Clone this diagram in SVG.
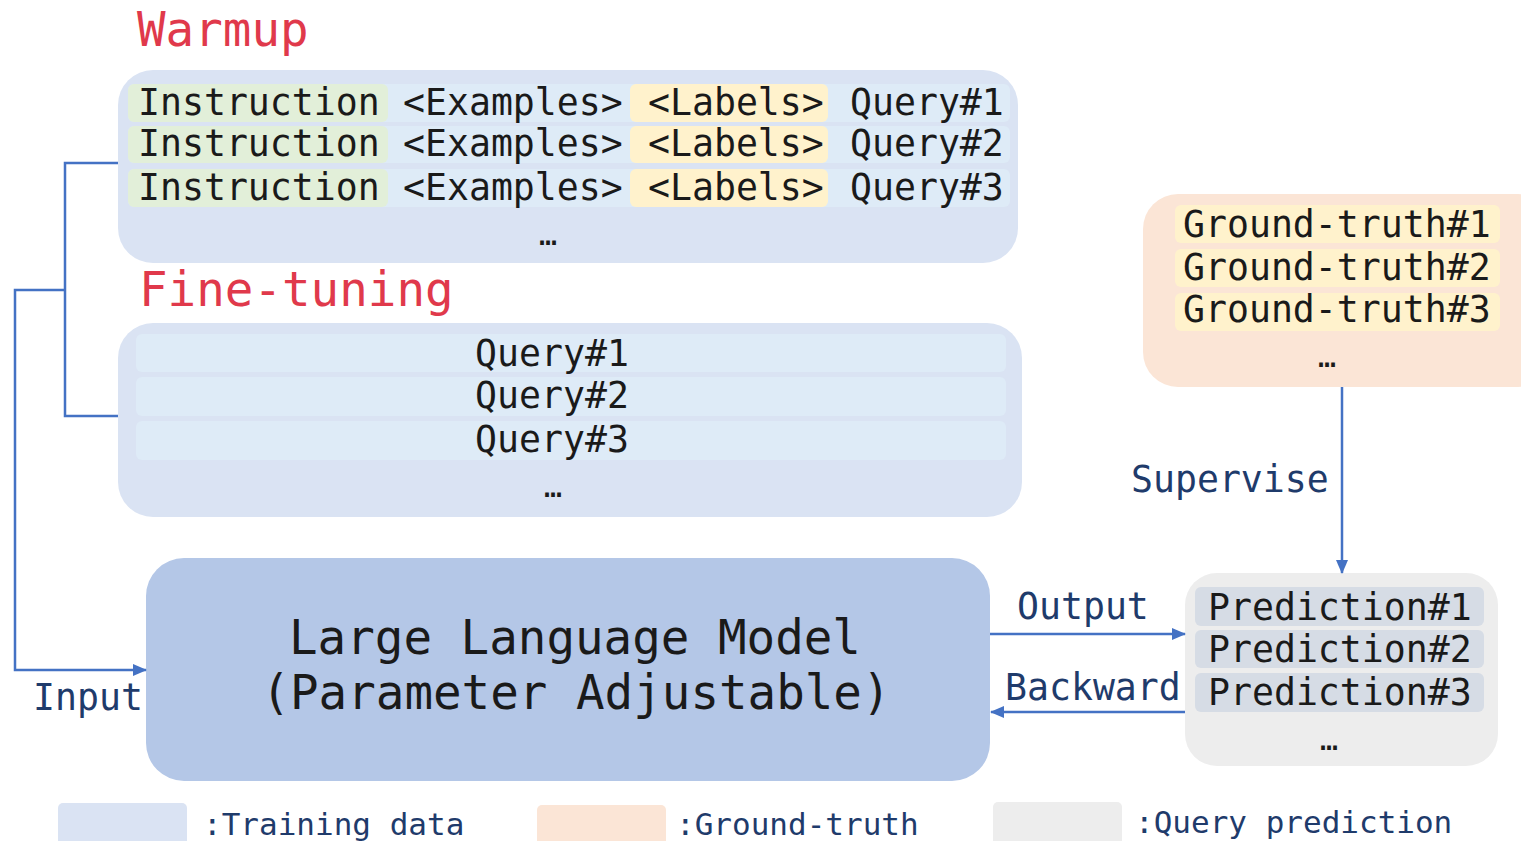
<svg xmlns="http://www.w3.org/2000/svg" width="1521" height="841" viewBox="0 0 1521 841">
<defs>
<marker id="ah" viewBox="0 0 14 12" refX="13" refY="6" markerWidth="14" markerHeight="12" orient="auto" markerUnits="userSpaceOnUse">
<path d="M0,0 L14,6 L0,12 z" fill="#4472c4"/>
</marker>
</defs>
<style>
text{font-family:"DejaVu Sans Mono","Liberation Mono",monospace;}
.t{font-size:36.5px;fill:#1a1a1a;}
.h{font-size:47.5px;fill:#e0394b;}
.big{font-size:47.5px;fill:#1a1a1a;}
.lab{font-size:36.5px;fill:#1f3b6b;}
.leg{font-size:31px;fill:#1f3b6b;}
.dots{font-size:30px;fill:#1a1a1a;}
.c{fill:none;stroke:#4472c4;stroke-width:2.5;}
</style>
<rect width="1521" height="841" fill="#ffffff"/>

<text class="h" x="137" y="46">Warmup</text>
<text class="h" x="139" y="306">Fine-tuning</text>

<g id="warmup">
<rect x="118" y="70" width="900" height="193" rx="35" fill="#dae3f3"/>
<rect x="128" y="84" width="882" height="38" rx="6" fill="#deebf7"/>
<rect x="128" y="126" width="882" height="37" rx="6" fill="#deebf7"/>
<rect x="128" y="169" width="882" height="38" rx="6" fill="#deebf7"/>
<rect x="128" y="84" width="260" height="38" rx="6" fill="#e2efd9"/>
<rect x="128" y="126" width="260" height="37" rx="6" fill="#e2efd9"/>
<rect x="128" y="169" width="260" height="38" rx="6" fill="#e2efd9"/>
<rect x="630" y="84" width="198" height="38" rx="6" fill="#fff2cc"/>
<rect x="630" y="126" width="198" height="37" rx="6" fill="#fff2cc"/>
<rect x="630" y="169" width="198" height="38" rx="6" fill="#fff2cc"/>
<text class="t" x="138" y="115">Instruction</text>
<text class="t" x="403" y="115">&lt;Examples&gt;</text>
<text class="t" x="648" y="115">&lt;Labels&gt;</text>
<text class="t" x="850" y="115">Query#1</text>
<text class="t" x="138" y="156">Instruction</text>
<text class="t" x="403" y="156">&lt;Examples&gt;</text>
<text class="t" x="648" y="156">&lt;Labels&gt;</text>
<text class="t" x="850" y="156">Query#2</text>
<text class="t" x="138" y="200">Instruction</text>
<text class="t" x="403" y="200">&lt;Examples&gt;</text>
<text class="t" x="648" y="200">&lt;Labels&gt;</text>
<text class="t" x="850" y="200">Query#3</text>
<text class="dots" x="548" y="245" text-anchor="middle">…</text>
</g>

<g id="finetuning">
<rect x="118" y="323" width="904" height="194" rx="35" fill="#dae3f3"/>
<rect x="136" y="334" width="870" height="38" rx="6" fill="#deebf7"/>
<rect x="136" y="377" width="870" height="39" rx="6" fill="#deebf7"/>
<rect x="136" y="421" width="870" height="39" rx="6" fill="#deebf7"/>
<text class="t" x="552" y="366" text-anchor="middle">Query#1</text>
<text class="t" x="552" y="408" text-anchor="middle">Query#2</text>
<text class="t" x="552" y="452" text-anchor="middle">Query#3</text>
<text class="dots" x="553" y="497" text-anchor="middle">…</text>
</g>

<g id="groundtruth">
<rect x="1143" y="194" width="410" height="193" rx="35" fill="#fbe5d6"/>
<rect x="1175" y="205" width="325" height="38" rx="6" fill="#fff2cc"/>
<rect x="1175" y="249" width="325" height="38" rx="6" fill="#fff2cc"/>
<rect x="1175" y="293" width="325" height="38" rx="6" fill="#fff2cc"/>
<text class="t" x="1183" y="237">Ground-truth#1</text>
<text class="t" x="1183" y="280">Ground-truth#2</text>
<text class="t" x="1183" y="322">Ground-truth#3</text>
<text class="dots" x="1327" y="367" text-anchor="middle">…</text>
</g>

<g id="llm">
<rect x="146" y="558" width="844" height="223" rx="38" fill="#b4c7e7"/>
<text class="big" x="575" y="654" text-anchor="middle">Large Language Model</text>
<text class="big" x="576" y="709" text-anchor="middle">(Parameter Adjustable)</text>
</g>

<g id="prediction">
<rect x="1185" y="573" width="313" height="193" rx="32" fill="#ededed"/>
<rect x="1195" y="587" width="289" height="39" rx="6" fill="#d6dce5"/>
<rect x="1195" y="630" width="289" height="38" rx="6" fill="#d6dce5"/>
<rect x="1195" y="673" width="289" height="39" rx="6" fill="#d6dce5"/>
<text class="t" x="1208" y="620">Prediction#1</text>
<text class="t" x="1208" y="662">Prediction#2</text>
<text class="t" x="1208" y="705">Prediction#3</text>
<text class="dots" x="1329" y="750" text-anchor="middle">…</text>
</g>

<g id="connectors">
<polyline class="c" points="118,163 65,163 65,416 118,416"/>
<polyline class="c" points="65,290 15,290 15,670 146,670" marker-end="url(#ah)"/>
<line class="c" x1="990" y1="634" x2="1185" y2="634" marker-end="url(#ah)"/>
<line class="c" x1="1185" y1="712" x2="991" y2="712" marker-end="url(#ah)"/>
<line class="c" x1="1342" y1="387" x2="1342" y2="573" marker-end="url(#ah)"/>
<text class="lab" x="33" y="710">Input</text>
<text class="lab" x="1017" y="619">Output</text>
<text class="lab" x="1005" y="700">Backward</text>
<text class="lab" x="1131" y="492">Supervise</text>
</g>

<g id="legend">
<rect x="58" y="803" width="129" height="45" rx="5" fill="#dae3f3"/>
<text class="leg" x="203" y="835">:Training data</text>
<rect x="537" y="805" width="129" height="45" rx="5" fill="#fbe5d6"/>
<text class="leg" x="676" y="835">:Ground-truth</text>
<rect x="993" y="802" width="129" height="45" rx="5" fill="#ededed"/>
<text class="leg" x="1135" y="833">:Query prediction</text>
</g>
</svg>
